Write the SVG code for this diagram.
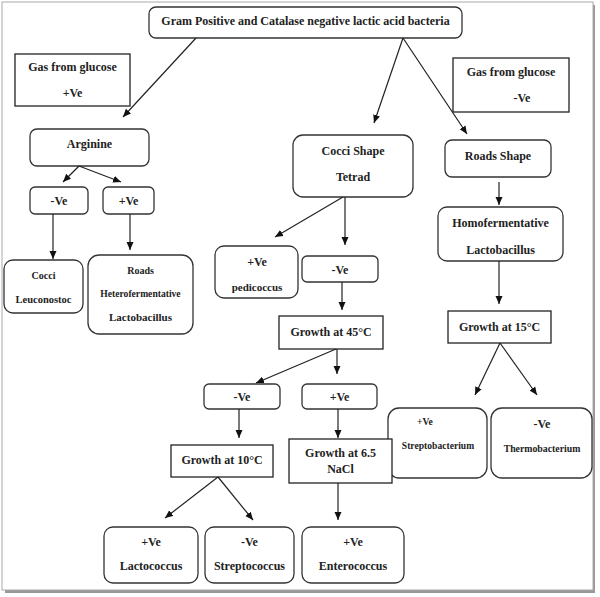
<svg xmlns="http://www.w3.org/2000/svg" width="600" height="597" viewBox="0 0 600 597">
<defs>
<marker id="ah" markerUnits="userSpaceOnUse" markerWidth="10" markerHeight="10" refX="8" refY="4" orient="auto">
<path d="M0,0.5 L8,4 L0,7.5 Z" fill="#111"/>
</marker>
<style>
.r{fill:#fff;stroke:#333;stroke-width:1.3}
.s{fill:#fff;stroke:#222;stroke-width:1.3}
text{font-family:"Liberation Serif","Times New Roman",serif;font-weight:bold;font-size:12px;fill:#222;text-anchor:middle}
.sm{font-size:10px}
.xs{font-size:9.6px}
.c line{stroke:#222;stroke-width:1.2;marker-end:url(#ah)}
</style>
</defs>
<rect x="0" y="0" width="600" height="597" fill="#fff"/>
<rect x="5" y="5" width="590" height="588" fill="#999"/>
<rect x="2" y="2" width="591" height="588" fill="#fff" stroke="#aaa" stroke-width="1"/>

<g id="top"><rect class="r" x="149" y="7" width="313" height="31" rx="7"/><text x="305.5" y="25">Gram Positive and Catalase negative lactic acid bacteria</text></g>
<g id="gaspos"><rect class="s" x="15" y="54" width="115" height="52"/><text x="72.5" y="71">Gas from glucose</text><text x="72.5" y="97">+Ve</text></g>
<g id="gasneg"><rect class="s" x="453" y="58" width="116" height="54"/><text x="511" y="76">Gas from glucose</text><text x="522" y="102">-Ve</text></g>
<g id="arginine"><rect class="r" x="30" y="129" width="119" height="37" rx="7"/><text x="89.5" y="148">Arginine</text></g>
<g id="argneg"><rect class="r" x="30" y="187" width="58" height="27" rx="5"/><text x="59" y="205">-Ve</text></g>
<g id="argpos"><rect class="r" x="103" y="187" width="51" height="27" rx="5"/><text x="128.5" y="205">+Ve</text></g>
<g id="leuconostoc"><rect class="r" x="4" y="260" width="79" height="53" rx="9"/><text class="sm" x="43.5" y="279">Cocci</text><text x="43.5" y="303" style="font-size:10.5px">Leuconostoc</text></g>
<g id="hetero"><rect class="r" x="88" y="255" width="105" height="79" rx="11"/><text class="sm" x="140.5" y="274">Roads</text><text class="xs" x="140.5" y="297">Heterofermentative</text><text x="140.5" y="321" style="font-size:11px">Lactobacillus</text></g>
<g id="cocci"><rect class="r" x="293" y="135" width="120" height="62" rx="10"/><text x="353" y="155">Cocci Shape</text><text x="353" y="181">Tetrad</text></g>
<g id="roads"><rect class="r" x="445" y="140" width="106" height="37" rx="7"/><text x="498" y="160">Roads Shape</text></g>
<g id="homo"><rect class="r" x="438" y="207" width="125" height="54" rx="9"/><text x="500.5" y="227">Homofermentative</text><text x="500.5" y="254">Lactobacillus</text></g>
<g id="g15"><rect class="s" x="448" y="311" width="103" height="32"/><text x="499.5" y="331">Growth at 15°C</text></g>
<g id="streptob"><rect class="r" x="388" y="408" width="99" height="70" rx="11"/><text class="xs" x="425" y="425">+Ve</text><text class="xs" x="438" y="449">Streptobacterium</text></g>
<g id="thermob"><rect class="r" x="491" y="408" width="101" height="70" rx="11"/><text x="542" y="428">-Ve</text><text x="542" y="452" style="font-size:9.8px">Thermobacterium</text></g>
<g id="pedicoccus"><rect class="r" x="215" y="246" width="83" height="52" rx="9"/><text x="257" y="266">+Ve</text><text x="257" y="291" style="font-size:11px">pedicoccus</text></g>
<g id="cocneg"><rect class="r" x="302" y="256" width="76" height="26" rx="5"/><text x="340" y="274">-Ve</text></g>
<g id="g45"><rect class="s" x="279" y="316" width="104" height="33"/><text x="331" y="336">Growth at 45°C</text></g>
<g id="g45neg"><rect class="r" x="204" y="384" width="76" height="25" rx="5"/><text x="242" y="401">-Ve</text></g>
<g id="g45pos"><rect class="r" x="302" y="384" width="75" height="25" rx="5"/><text x="339.5" y="401">+Ve</text></g>
<g id="g10"><rect class="s" x="171" y="445" width="102" height="32"/><text x="222" y="464">Growth at 10°C</text></g>
<g id="nacl"><rect class="s" x="289" y="439" width="103" height="44"/><text x="340.5" y="457">Growth at 6.5</text><text x="340.5" y="473">NaCl</text></g>
<g id="lactococcus"><rect class="r" x="104" y="527" width="94" height="56" rx="9"/><text x="151" y="546">+Ve</text><text x="151" y="570">Lactococcus</text></g>
<g id="streptococcus"><rect class="r" x="205" y="527" width="89" height="56" rx="9"/><text x="249.5" y="546">-Ve</text><text x="249.5" y="570">Streptococcus</text></g>
<g id="enterococcus"><rect class="r" x="302" y="527" width="102" height="56" rx="9"/><text x="353" y="546">+Ve</text><text x="353" y="570">Enterococcus</text></g>

<g id="connectors" class="c">
<line x1="196" y1="38" x2="123" y2="117"/>
<line x1="403" y1="38" x2="374" y2="123"/>
<line x1="403" y1="38" x2="467" y2="134"/>
<line x1="79" y1="166" x2="63" y2="182"/>
<line x1="79" y1="166" x2="121" y2="182"/>
<line x1="53" y1="214" x2="53" y2="259"/>
<line x1="130" y1="214" x2="130" y2="250"/>
<line x1="343" y1="197" x2="275" y2="237"/>
<line x1="345" y1="197" x2="345" y2="245"/>
<line x1="342" y1="282" x2="342" y2="310"/>
<line x1="336" y1="349" x2="256" y2="383"/>
<line x1="337" y1="349" x2="337" y2="374"/>
<line x1="239" y1="409" x2="239" y2="438"/>
<line x1="338" y1="409" x2="338" y2="438"/>
<line x1="218" y1="477" x2="165" y2="518"/>
<line x1="218" y1="477" x2="253" y2="520"/>
<line x1="338" y1="483" x2="338" y2="520"/>
<line x1="499" y1="182" x2="499" y2="205"/>
<line x1="499" y1="261" x2="499" y2="304"/>
<line x1="500" y1="343" x2="475" y2="395"/>
<line x1="500" y1="343" x2="537" y2="395"/>
</g>
</svg>
